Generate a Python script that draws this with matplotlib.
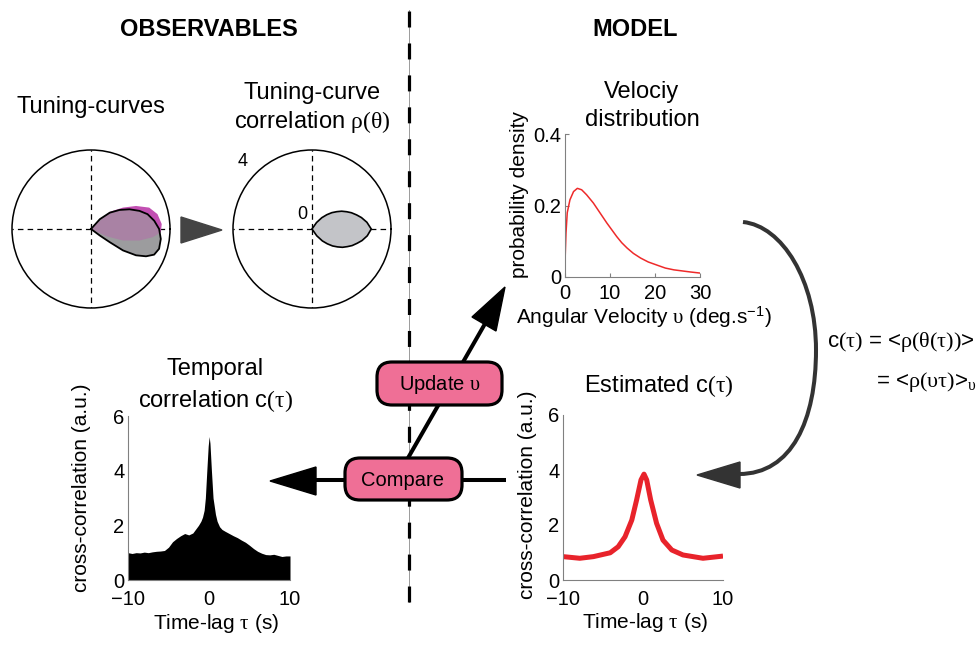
import numpy as np
import matplotlib
matplotlib.use('Agg')
import matplotlib.pyplot as plt
from matplotlib.patches import FancyBboxPatch, Polygon, PathPatch
from matplotlib.path import Path

plt.rcParams['font.family'] = ['Liberation Sans', 'DejaVu Sans']
plt.rcParams['mathtext.fontset'] = 'custom'
plt.rcParams['mathtext.rm'] = 'Liberation Serif'
plt.rcParams['mathtext.it'] = 'Liberation Serif:italic'
plt.rcParams['mathtext.sf'] = 'Liberation Sans'
plt.rcParams['lines.scale_dashes'] = False

# ---------------- data ----------------
# tuning curves (polar, degrees / radius)
tc_grey_theta = [48, 48, 41, 33.7, 27.1, 20.5, 14.7, 7.4, 0, -8.1, -16.2, -22.1, -26.4, -30.3, -33.8, -35.1, -36.5, -37]
tc_grey_r = [0, 0.67, 1.26, 1.74, 2.19, 2.62, 2.96, 3.23, 3.45, 3.57, 3.59, 3.45, 3.11, 2.64, 1.95, 1.16, 0.56, 0]
tc_mag_theta = [45, 42.4, 33.8, 27.1, 20.2, 12.6, 4.0, -2.7, -7.6, -13.4, -19.8, -25.1, -25.2, -25]
tc_mag_r = [0, 1.29, 1.95, 2.56, 3.14, 3.45, 3.59, 3.54, 3.15, 2.52, 1.72, 0.87, 0.31, 0]
# tuning-curve correlation rho(theta)
rho_theta = [62, 55, 49, 44, 39.5, 35, 31, 26.5, 22.4, 17.5, 13, 7, 0,
             -7, -13, -17.5, -22.4, -26.5, -31, -35, -39.5, -44, -49, -55, -62]
rho_r = [0, 0.40, 0.76, 1.04, 1.30, 1.53, 1.75, 1.96, 2.16, 2.37, 2.57, 2.80, 3.0,
         2.82, 2.6, 2.4, 2.2, 2.0, 1.8, 1.58, 1.35, 1.08, 0.8, 0.42, 0]
# observed temporal correlation
tau_obs = [-10, -9.5, -9, -8.5, -8, -7.5, -7, -6.5, -6, -5.5,
           -5, -4.5, -4, -3.5, -3, -2.5, -2, -1.5, -1.3, -1.0,
           -0.8, -0.6, -0.45, -0.27, -0.1, 0.02, 0.12, 0.3, 0.5, 0.8,
           1.0, 1.3, 1.6, 2.0, 2.5, 3.0, 3.5, 4.0, 4.5, 5.0,
           5.5, 6.0, 6.5, 7.0, 7.5, 8.0, 8.5, 9.0, 9.5, 10]
c_obs = [1.0, 0.97, 1.0, 0.99, 1.02, 1.0, 1.03, 1.05, 1.06, 1.08,
         1.2, 1.4, 1.52, 1.62, 1.7, 1.65, 1.72, 1.92, 2.0, 2.15,
         2.3, 2.55, 3.0, 4.0, 4.9, 5.25, 5.0, 4.0, 3.0, 2.4,
         2.15, 1.95, 1.85, 1.78, 1.7, 1.62, 1.55, 1.46, 1.38, 1.27,
         1.15, 1.05, 0.98, 0.93, 0.92, 0.94, 0.9, 0.86, 0.88, 0.88]
# estimated correlation
tau_est = [-10, -7.9, -6.2, -4.1, -3.1, -2.25, -1.4, -0.8, -0.25, 0.125, 0.46, 0.96, 1.7, 2.5, 3.6, 5.0, 7.5, 10]
c_est = [0.85, 0.79, 0.85, 0.99, 1.21, 1.57, 2.18, 2.91, 3.64, 3.85, 3.64, 2.91, 2.06, 1.45, 1.09, 0.91, 0.79, 0.87]
# velocity distribution
vel = [0, 0.05, 0.22, 0.5, 1.1, 1.9, 2.75, 3.7, 4.8, 6.3, 7.8, 9.3, 10.4, 11.5, 12.6, 13.8, 15.2,
       16.8, 18.5, 20.5, 22.3, 24.2, 27.9, 30]
pdens = [0, 0.06, 0.123, 0.18, 0.216, 0.239, 0.248, 0.244, 0.23, 0.207, 0.179, 0.151, 0.132, 0.113, 0.096,
         0.081, 0.066, 0.053, 0.042, 0.033, 0.025, 0.02, 0.014, 0.011]

ct_ticks = [-10, 0, 10]
cc_ticks = [0, 2, 4, 6]
vel_ticks = [0, 10, 20, 30]
pd_ticks = [0, 0.2, 0.4]
pd_ticklabels = ['0', '0.2', '0.4']

# ---------------- figure ----------------
W, H = 979, 645
fig = plt.figure(figsize=(W / 100, H / 100), dpi=100)


def rect(x0, y0, x1, y1):
    return [x0 / W, (H - y1) / H, (x1 - x0) / W, (y1 - y0) / H]


TS = 14.5   # tick size
LS = 15     # label size
TT = 17     # title size
SP = '#808080'


def polar_panel(cx, cy, R=79):
    ax = fig.add_axes(rect(cx - R, cy - R, cx + R, cy + R), projection='polar')
    ax.set_ylim(0, 4)
    ax.set_yticks([])
    ax.set_xticks(np.deg2rad([0, 90, 180, 270]))
    ax.set_xticklabels([])
    ax.xaxis.grid(True, color='k', linestyle=(0, (4, 3)), linewidth=0.9)
    ax.spines['polar'].set_linewidth(1.1)
    ax.set_axisbelow(True)
    return ax


# left polar: tuning curves
axA = polar_panel(91, 229)
axA.fill(np.deg2rad(tc_mag_theta), tc_mag_r, color='#c24fb2', lw=0, zorder=2)
grey = axA.fill(np.deg2rad(tc_grey_theta), tc_grey_r, color='#9c9c9e', lw=0, zorder=3)[0]
mauve = axA.fill(np.deg2rad(tc_mag_theta), tc_mag_r, color='#a982a4', lw=0, zorder=4)[0]
mauve.set_clip_path(grey)
axA.plot(np.deg2rad(tc_grey_theta), tc_grey_r, color='k', lw=1.3, zorder=5)

# right polar: correlation
axB = polar_panel(312, 229)
axB.fill(np.deg2rad(rho_theta), rho_r, facecolor='#c3c4c8', edgecolor='k', lw=1.2, zorder=3)


def style(ax, ticks_in=False):
    for s in ['top', 'right']:
        ax.spines[s].set_visible(False)
    for s in ['left', 'bottom']:
        ax.spines[s].set_color(SP)
        ax.spines[s].set_linewidth(0.8)
    if ticks_in:
        ax.tick_params(direction='in', length=3, color=SP, labelsize=TS)
        ax.tick_params(axis='x', pad=5)
        ax.tick_params(axis='y', pad=2.5)
    else:
        ax.tick_params(length=0, labelsize=TS)
        ax.tick_params(axis='x', pad=7.5)
        ax.tick_params(axis='y', pad=2.5)


# observed temporal correlation
axT = fig.add_axes(rect(128, 416, 290, 580))
axT.fill_between(tau_obs, 0, c_obs, color='k', lw=0)
axT.set_xlim(-10, 10)
axT.set_ylim(0, 6)
axT.set_xticks(ct_ticks)
axT.set_yticks(cc_ticks)
style(axT)
axT.set_xlabel(r'Time-lag $\mathrm{\tau}$ (s)', fontsize=LS, va='center')
axT.set_ylabel('cross-correlation (a.u.)', fontsize=LS, va='center')
axT.xaxis.set_label_coords(0.545, -0.265)
axT.yaxis.set_label_coords(-0.285, 0.56)

# estimated correlation
axE = fig.add_axes(rect(563, 415, 723, 580))
axE.plot(tau_est, c_est, color='#e8232b', lw=3.6, solid_joinstyle='round', solid_capstyle='butt')
axE.set_xlim(-10, 10)
axE.set_ylim(0, 6)
axE.set_xticks(ct_ticks)
axE.set_yticks(cc_ticks)
style(axE)
axE.set_xlabel(r'Time-lag $\mathrm{\tau}$ (s)', fontsize=LS, va='center')
axE.set_ylabel('cross-correlation (a.u.)', fontsize=LS, va='center')
axE.xaxis.set_label_coords(0.51, -0.26)
axE.yaxis.set_label_coords(-0.22, 0.515)

# velocity distribution
axV = fig.add_axes(rect(565, 134, 700, 277))
axV.plot(vel, pdens, color='#ee2a2a', lw=1.1)
axV.set_xlim(0, 30)
axV.set_ylim(0, 0.4)
axV.set_xticks(vel_ticks)
axV.set_yticks(pd_ticks)
axV.set_yticklabels(pd_ticklabels)
style(axV, ticks_in=True)
axV.set_xlabel(r'Angular Velocity $\mathrm{\upsilon}$ (deg.s$^{\mathsf{-1}}$)', fontsize=LS, va='center')
axV.set_ylabel('probability density', fontsize=LS, va='center')
axV.xaxis.set_label_coords(0.585, -0.28)
axV.yaxis.set_label_coords(-0.335, 0.58)

# ---------------- overlay (annotations) ----------------
ov = fig.add_axes([0, 0, 1, 1])
ov.set_xlim(0, W)
ov.set_ylim(H, 0)
ov.axis('off')
ov.set_zorder(10)

# divider
ov.plot([409, 409], [10, 602], color='#9a9a9a', lw=0.7, zorder=1)
ov.plot([409, 409], [602, 10], color='k', lw=2.3, linestyle=(0, (11.5, 11.5)),
        dash_capstyle='butt', zorder=1)

ov.text(209, 36, 'OBSERVABLES', fontsize=17, fontweight='bold', ha='center', va='baseline')
ov.text(635, 36, 'MODEL', fontsize=17, fontweight='bold', ha='center', va='baseline')

ov.text(91, 113, 'Tuning-curves', fontsize=TT, ha='center', va='baseline')
ov.text(312, 99, 'Tuning-curve', fontsize=TT, ha='center', va='baseline')
ov.text(312, 128, r'correlation $\mathrm{\rho(\theta)}$', fontsize=TT, ha='center', va='baseline')
ov.text(243, 166, '4', fontsize=13, ha='center', va='baseline')
ov.text(302, 219, '0', fontsize=13, ha='center', va='baseline')

ov.text(642, 98, 'Velociy', fontsize=TT, ha='center', va='baseline')
ov.text(642, 126, 'distribution', fontsize=TT, ha='center', va='baseline')
ov.text(215, 375, 'Temporal', fontsize=TT, ha='center', va='baseline')
ov.text(215, 407, r'correlation c$\mathrm{(\tau)}$', fontsize=TT, ha='center', va='baseline')
ov.text(659, 392, r'Estimated c$\mathrm{(\tau)}$', fontsize=TT, ha='center', va='baseline')

ov.text(827, 347, r'c$\mathrm{(\tau)}$ = <$\mathrm{\rho(\theta(\tau))}$>', fontsize=16, ha='left', va='baseline')
ov.text(976, 387, r'= <$\mathrm{\rho(\upsilon\tau)}$>$_{\mathrm{\upsilon}}$', fontsize=16, ha='right', va='baseline')

# grey triangle between circles
ov.add_patch(Polygon([(181, 217), (181, 243), (222, 230)], closed=True, color='#444444', zorder=3))

# curved arrow
curve = Path([(743, 222), (782, 226), (816, 280), (816, 350), (816, 420), (792, 474), (739, 474)],
             [Path.MOVETO, Path.CURVE4, Path.CURVE4, Path.CURVE4, Path.CURVE4, Path.CURVE4, Path.CURVE4])
ov.add_patch(PathPatch(curve, facecolor='none', edgecolor='#333333', lw=2.9, capstyle='butt', zorder=3))
ov.add_patch(Polygon([(697, 475), (740, 462), (740, 488)], closed=True, color='#333333', zorder=3))

# diagonal arrow
ov.plot([408, 486], [458, 322], color='k', lw=2.9, solid_capstyle='butt', zorder=2)
ov.add_patch(Polygon([(505, 287), (496, 331), (472, 317)], closed=True, color='k', zorder=2))

# horizontal arrow
ov.plot([316, 506], [480, 480], color='k', lw=2.9, solid_capstyle='butt', zorder=2)
ov.add_patch(Polygon([(270, 481), (316, 467), (316, 495)], closed=True, color='k', zorder=2))

PINK = '#ef6f96'
ov.add_patch(FancyBboxPatch((377, 362), 125, 43, boxstyle='round,pad=0,rounding_size=15',
                            facecolor=PINK, edgecolor='k', lw=2.3, zorder=4))
ov.add_patch(FancyBboxPatch((345, 458), 117, 42, boxstyle='round,pad=0,rounding_size=15',
                            facecolor=PINK, edgecolor='k', lw=2.3, zorder=4))
ov.text(440, 384, r'Update $\mathrm{\upsilon}$', fontsize=14.5, ha='center', va='center', zorder=5)
ov.text(403, 480, 'Compare', fontsize=14.5, ha='center', va='center', zorder=5)

fig.savefig('out.png', dpi=100)
